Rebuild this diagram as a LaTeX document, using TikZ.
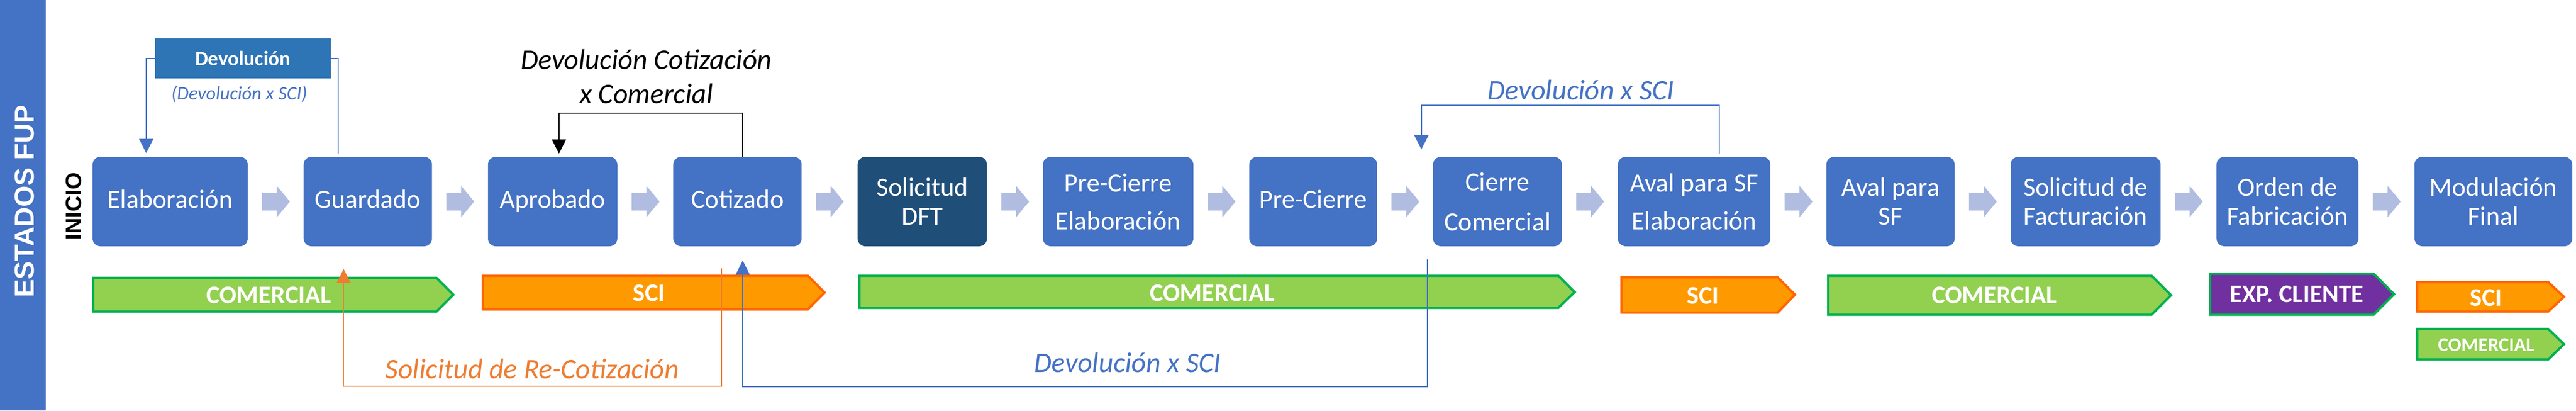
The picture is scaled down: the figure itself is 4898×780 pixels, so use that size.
\documentclass[tikz,border=0pt]{standalone}
\usepackage{fontspec}
\setmainfont{Carlito}
\newfontfamily\arialfont{Liberation Sans}
\usepackage{xcolor}
\usepackage{tikz}
\usetikzlibrary{calc}
\usetikzlibrary{arrows.meta}
\usetikzlibrary{positioning}
\definecolor{azul}{HTML}{4472C4}
\definecolor{azuloscuro}{HTML}{1F4E79}
\definecolor{azuldev}{HTML}{2E75B6}
\definecolor{flecha}{HTML}{B0BDE0}
\definecolor{verde}{HTML}{92D050}
\definecolor{verdeborde}{HTML}{00B050}
\definecolor{naranja}{HTML}{FF9900}
\definecolor{naranjaborde}{HTML}{FF6600}
\definecolor{morado}{HTML}{7030A0}
\definecolor{naranjalinea}{HTML}{ED7D31}
\tikzset{>={Triangle[width=27pt,length=27pt]}}
\tikzstyle{estado} = [rectangle, rounded corners=15pt, fill=azul, text=white, minimum height=170pt, inner sep=0pt, align=center, font=\fontsize{50}{55}\selectfont]
\tikzstyle{linea} = [text height=35pt, text depth=10pt]
\tikzstyle{chevron} = [fill=flecha]
\tikzstyle{barcom} = [fill=verde, draw=verdeborde, line width=4.5pt]
\tikzstyle{barsci} = [fill=naranja, draw=naranjaborde, line width=4.5pt]
\tikzstyle{barexp} = [fill=morado, draw=verdeborde, line width=4.5pt]
\tikzstyle{bartxt} = [text=white, font=\bfseries\fontsize{48}{50}\selectfont, inner sep=0pt]
\tikzstyle{retorno} = [line width=2pt]
\tikzstyle{nota} = [font=\itshape\fontsize{54}{65}\selectfont, align=center, inner sep=0pt]

\begin{document}
\begin{tikzpicture}[x=1pt, y=-1pt]
\useasboundingbox (0,0) rectangle (4898,780);
\fill [azul] (0,0) rectangle (87,780);
\node [rotate=90, text=white, inner sep=0pt, font=\arialfont\bfseries\fontsize{52}{55}\selectfont] (estados) at (47,383) {ESTADOS FUP};
\node [rotate=90, inner sep=0pt, font=\arialfont\bfseries\fontsize{42}{45}\selectfont] (inicio) at (140,392) {INICIO};

% estados
\node [estado, linea, minimum width=295pt] (elab) at (323.5,383) {Elaboración};
\node [estado, linea, minimum width=244pt, right=106pt of elab] (guard) {Guardado};
\node [estado, linea, minimum width=246pt, right=106pt of guard] (aprob) {Aprobado};
\node [estado, linea, minimum width=244pt, right=106pt of aprob] (cotiz) {Cotizado};
\node [estado, fill=azuloscuro, minimum width=246pt, right=106pt of cotiz] (dft) {Solicitud\\DFT};
\node [estado, minimum width=286pt, right=106pt of dft] (precelab) {Pre-Cierre\\[17pt]Elaboración};
\node [estado, linea, minimum width=243pt, right=106pt of precelab] (precierre) {Pre-Cierre};
\node [estado, minimum width=245pt, right=106pt of precierre] (cierre) {Cierre\\[21pt]Comercial};
\node [estado, minimum width=290pt, right=106pt of cierre] (avalelab) {Aval para SF\\[17pt]Elaboración};
\node [estado, minimum width=244pt, right=106pt of avalelab] (aval) {Aval para\\SF};
\node [estado, minimum width=285pt, right=106pt of aval] (solfact) {Solicitud de\\Facturación};
\node [estado, minimum width=270pt, right=106pt of solfact] (orden) {Orden de\\Fabricación};
\node [estado, minimum width=300pt, right=106pt of orden] (modul) {Modulación\\Final};

\foreach \a/\b in {elab/guard, guard/aprob, aprob/cotiz, cotiz/dft, dft/precelab, precelab/precierre, precierre/cierre, cierre/avalelab, avalelab/aval, aval/solfact, solfact/orden, orden/modul}
  \fill [chevron] ($(\a.east)!0.5!(\b.west)$) ++(-26,-17) -- ++(28,0) -- ++(0,-13) -- ++(25,30) -- ++(-25,30) -- ++(0,-13) -- ++(-28,0) -- cycle;

% devoluciones arriba
\node [rectangle, fill=azuldev, text=white, minimum width=334pt, minimum height=76pt, inner sep=0pt, font=\bfseries\fontsize{39}{40}\selectfont] (devol) at (462,111) {Devolución};
\node [nota, text=azul, font=\itshape\fontsize{36}{40}\selectfont, anchor=base] (devsci) at (455,189) {(Devolución x SCI)};
\draw [retorno, draw=azul, ->] (devol.west) -| ($(elab.north)+(-45.5,-7)$);
\draw [retorno, draw=azul] (devol.east) -| ($(guard.north)+(-56,-5)$);

\draw [retorno, ->] ($(cotiz.north)+(10,0)$) -- ++(0,-83) -| ($(aprob.north)+(12,-6)$);
\node [nota] (devcom) at (1229,145) {Devolución Cotización\\x Comercial};

\draw [retorno, draw=azul, ->] ($(avalelab.north)+(48,-5)$) -- ++(0,-93) -| ($(cierre.north west)+(-22,-14)$);
\node [nota, text=azul, anchor=base] (devsci2) at (3006,189) {Devolución x SCI};

% responsables
\draw [barcom] (177,528) -- (830,528) -- (862,560) -- (830,592) -- (177,592) -- cycle;
\node [bartxt] (com1) at (511,561) {COMERCIAL};
\draw [barsci] (918,524) -- (1536,524) -- (1568,556) -- (1536,588) -- (918,588) -- cycle;
\node [bartxt] (sci1) at (1234,557) {SCI};
\draw [barcom] (1634,524) -- (2963,524) -- (2994,555) -- (2963,585) -- (1634,585) -- cycle;
\node [bartxt] (com2) at (2305,557) {COMERCIAL};
\draw [barsci] (3083,527) -- (3380,527) -- (3413,560) -- (3380,594) -- (3083,594) -- cycle;
\node [bartxt] (sci2) at (3238,562) {SCI};
\draw [barcom] (3476,524) -- (4091,524) -- (4128,561) -- (4091,598) -- (3476,598) -- cycle;
\node [bartxt] (com3) at (3792,561) {COMERCIAL};
\draw [barexp] (4202,520) -- (4513,520) -- (4552,559) -- (4513,598) -- (4202,598) -- cycle;
\node [bartxt] (exp) at (4367,559) {EXP. CLIENTE};
\draw [barsci] (4596,536) -- (4845,536) -- (4875,564) -- (4845,592) -- (4596,592) -- cycle;
\node [bartxt] (sci3) at (4727,566) {SCI};
\draw [barcom] (4596,625) -- (4845,625) -- (4875,654) -- (4845,683) -- (4596,683) -- cycle;
\node [bartxt, font=\bfseries\fontsize{37}{40}\selectfont] (com4) at (4727,655) {COMERCIAL};

% devoluciones abajo
\draw [retorno, draw=azul, ->] ($(cierre.south west)+(-11,25)$) -- ++(0,242) -| ($(cotiz.south)+(10,27)$);
\node [nota, text=azul, anchor=base] (devsci3) at (2144,707) {Devolución x SCI};
\draw [retorno, draw=naranjalinea, ->] ($(cotiz.south)+(-30,42)$) -- ++(0,224) -| ($(guard.south)+(-46,43)$);
\node [nota, text=naranjalinea, anchor=base] (recot) at (1012,719) {Solicitud de Re-Cotización};
\end{tikzpicture}
\end{document}
